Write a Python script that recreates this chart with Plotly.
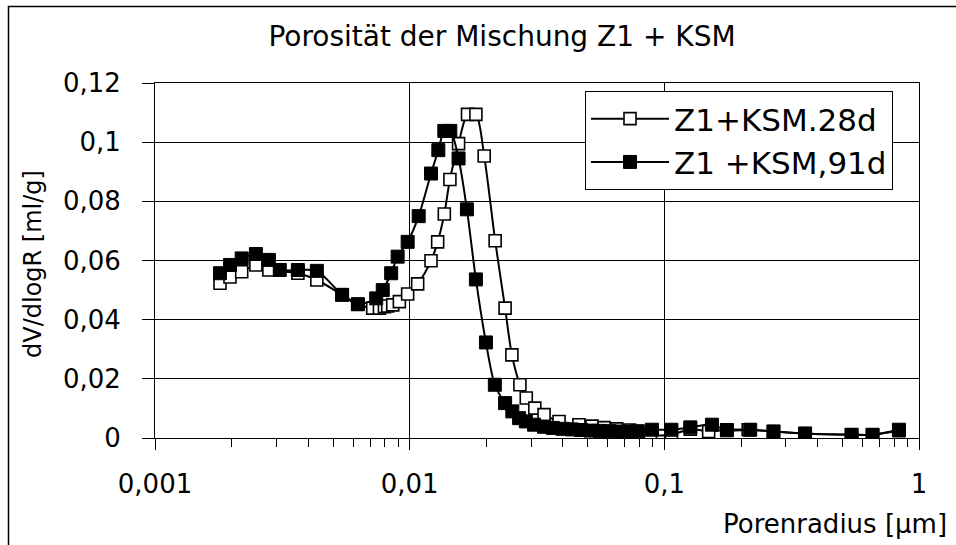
import plotly.graph_objects as go

# ---------------- data ----------------
radius_28d = [0.00180, 0.00197, 0.00219, 0.00249, 0.00280, 0.00364, 0.00432, 0.00543, 0.00626,
              0.00716, 0.00761, 0.00796, 0.00820, 0.00858, 0.00911, 0.00982, 0.01075, 0.01213,
              0.01288, 0.01368, 0.01439, 0.01556, 0.01687, 0.01820, 0.01962, 0.02166, 0.0237,
              0.0252, 0.0271, 0.0287, 0.0310, 0.0337, 0.0386, 0.0462, 0.052, 0.058, 0.065, 0.073,
              0.0882, 0.1066, 0.1265, 0.1493, 0.176, 0.2135, 0.2683, 0.357, 0.5435, 0.657, 0.834]
dv_28d = [0.0523, 0.0544, 0.0562, 0.0585, 0.0568, 0.0557, 0.0534, 0.0484, 0.0452,
          0.0439, 0.0439, 0.0444, 0.0446, 0.0450, 0.0461, 0.0487, 0.0521, 0.0599,
          0.0663, 0.0757, 0.0874, 0.0995, 0.1094, 0.1094, 0.0953, 0.0667, 0.0439,
          0.0281, 0.0180, 0.0135, 0.0101, 0.0079, 0.0056, 0.0045, 0.0040, 0.0035, 0.0031, 0.0027,
          0.0010, 0.0011, 0.0030, 0.0022, 0.0028, 0.0028, 0.0022, 0.0015, 0.0011, 0.0011, 0.0025]

radius_91d = [0.00180, 0.00197, 0.00219, 0.00249, 0.00280, 0.00309, 0.00364, 0.00432, 0.00543,
              0.00626, 0.00739, 0.00784, 0.00846, 0.00897, 0.00982, 0.01085, 0.01213, 0.01296,
              0.01368, 0.01444, 0.01556, 0.01678, 0.01820, 0.01993, 0.0216, 0.0237, 0.0253,
              0.0269, 0.0286, 0.0308, 0.0337, 0.0365, 0.0398, 0.0433, 0.0471, 0.0513, 0.0559,
              0.0609, 0.0663, 0.0722, 0.0787, 0.0894, 0.1066, 0.1265, 0.1538, 0.176, 0.2174,
              0.2683, 0.357, 0.5435, 0.657, 0.834]
dv_91d = [0.0557, 0.0585, 0.0607, 0.0622, 0.0602, 0.0568, 0.0568, 0.0565, 0.0484,
          0.0452, 0.0472, 0.0500, 0.0557, 0.0613, 0.0663, 0.0750, 0.0894, 0.0973,
          0.1038, 0.1038, 0.0945, 0.0773, 0.0536, 0.0323, 0.0180, 0.0118, 0.0090,
          0.0067, 0.0056, 0.0045, 0.0038, 0.0034, 0.0031, 0.0029, 0.0027, 0.0025, 0.0024,
          0.0023, 0.0022, 0.0022, 0.0023, 0.0028, 0.0028, 0.0036, 0.0045, 0.0026, 0.0028,
          0.0022, 0.0015, 0.0011, 0.0011, 0.0028]

series_names = ["Z1+KSM.28d", "Z1 +KSM,91d"]
x_tickvals = [0.001, 0.01, 0.1, 1]
x_ticktext = ["0,001", "0,01", "0,1", "1"]
y_tickvals = [0, 0.02, 0.04, 0.06, 0.08, 0.10, 0.12]
y_ticktext = ["0", "0,02", "0,04", "0,06", "0,08", "0,1", "0,12"]

title_text = "Porosität der Mischung Z1 + KSM"
x_title = "Porenradius [µm]"
y_title = "dV/dlogR [ml/g]"

# ---------------- figure ----------------
FONT = "DejaVu Sans"
W, H = 956, 545
L, R, T, B = 155, 919, 83, 438   # plot area in page px


def px_x(p):
    return (p - L) / (R - L)


def px_y(p):
    return (B - p) / (B - T)


fig = go.Figure()
fig.add_trace(go.Scatter(
    x=radius_28d, y=dv_28d, name=series_names[0], mode="lines+markers",
    line=dict(color="black", width=2, shape="spline", smoothing=0.8),
    marker=dict(symbol="square", size=12, color="white", line=dict(color="black", width=1.6)),
))
fig.add_trace(go.Scatter(
    x=radius_91d, y=dv_91d, name=series_names[1], mode="lines+markers",
    line=dict(color="black", width=2, shape="spline", smoothing=0.8),
    marker=dict(symbol="square", size=13, color="black", line=dict(color="black", width=1)),
))

fig.update_layout(
    width=W, height=H,
    margin=dict(l=L, r=W - R, t=T, b=H - B, autoexpand=False),
    paper_bgcolor="white", plot_bgcolor="white",
    font=dict(family=FONT, size=26, color="black"),
    title=dict(text=title_text, x=502 / W, xanchor="center", y=1 - 36 / H,
               yanchor="middle", yref="container",
               font=dict(family=FONT, size=28, color="black")),
    showlegend=True,
    legend=dict(x=px_x(585), y=px_y(91), xanchor="left", yanchor="top",
                bgcolor="white", bordercolor="black", borderwidth=1,
                font=dict(family=FONT, size=31, color="black"),
                itemwidth=78, tracegroupgap=0),
)

fig.update_xaxes(
    type="log", range=[-3, 0], tickvals=x_tickvals, ticktext=x_ticktext,
    showgrid=True, gridcolor="black", gridwidth=1,
    showline=True, linecolor="black", linewidth=1, mirror=True,
    ticks="outside", ticklen=11, tickcolor="black", tickwidth=1,
    ticklabelstandoff=12,
    minor=dict(ticks="outside", ticklen=8, tickcolor="black", tickwidth=1,
               dtick="D1", showgrid=False),
    tickfont=dict(family=FONT, size=26, color="black"),
    zeroline=False,
)
fig.update_yaxes(
    range=[0, 0.12], tickvals=y_tickvals, ticktext=y_ticktext,
    showgrid=True, gridcolor="black", gridwidth=1,
    showline=True, linecolor="black", linewidth=1, mirror=True,
    ticks="outside", ticklen=12, tickcolor="black", tickwidth=1,
    ticklabelstandoff=16,
    tickfont=dict(family=FONT, size=26, color="black"),
    zeroline=False,
)

# axis titles
fig.add_annotation(text=y_title, xref="paper", yref="paper", x=px_x(33), y=px_y(264),
                   xanchor="center", yanchor="middle", textangle=-90, showarrow=False,
                   font=dict(family=FONT, size=24, color="black"))
fig.add_annotation(text=x_title, xref="paper", yref="paper", x=px_x(949), y=px_y(524),
                   xanchor="right", yanchor="middle", showarrow=False,
                   font=dict(family=FONT, size=26, color="black"))

# outer chart frame: only the left and top edges are visible in the original
fx0, fy0 = px_x(8.5), px_y(600)
fy1, fx1 = px_y(6.5), px_x(1000)
fig.add_shape(type="path", xref="paper", yref="paper",
              path=f"M {fx0},{fy0} L {fx0},{fy1} L {fx1},{fy1}",
              line=dict(color="black", width=1.5), layer="below")

# remove the page's default body margin / scrollbars so the figure sits at the page origin
page_js = ("document.body.style.margin='0';"
           "document.body.style.overflow='hidden';"
           "document.documentElement.style.overflow='hidden';")
fig.write_html("out.html", post_script=page_js, config={"displayModeBar": False})
